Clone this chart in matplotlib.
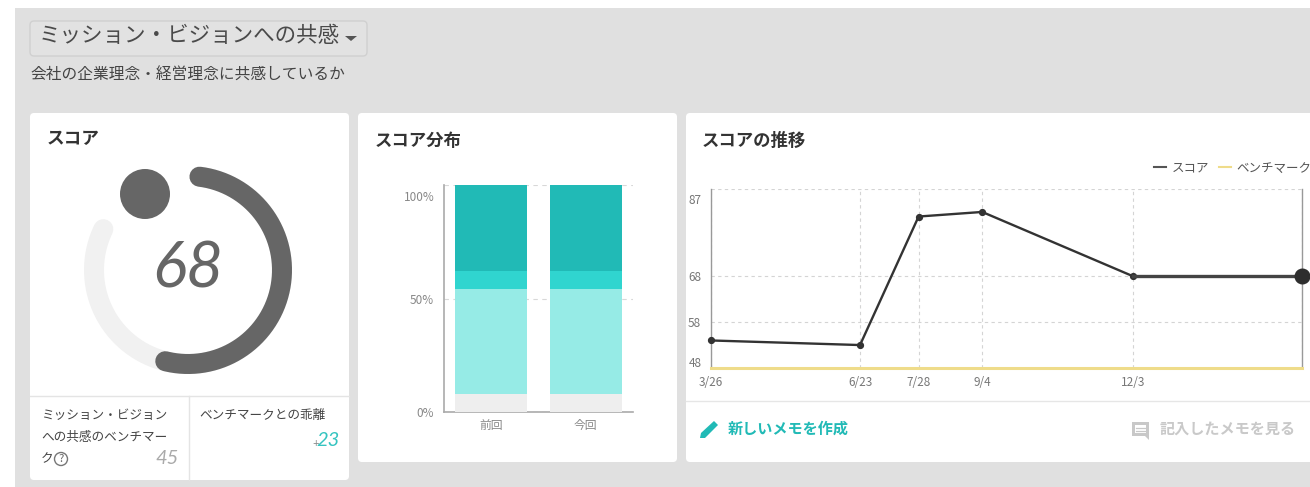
import matplotlib
matplotlib.use("Agg")
import numpy as np
import matplotlib.pyplot as plt
from matplotlib.patches import FancyBboxPatch, Rectangle, Circle, Polygon
from matplotlib.lines import Line2D
from matplotlib.transforms import ScaledTranslation

plt.rcParams['font.family'] = ['Noto Sans CJK JP', 'DejaVu Sans']

# ---- data ----
header_title = "ミッション・ビジョンへの共感"
header_sub = "会社の企業理念・経営理念に共感しているか"
score = 68
benchmark = 45
gap_label = "23"

dist_categories = ["前回", "今回"]
dist_bottom_grey = [8, 8]
dist_light = [46, 46]
dist_mid = [8, 8]
dist_dark = [38, 38]
dist_ticks = [0, 50, 100]
dist_ticklabels = ["0%", "50%", "100%"]

trend_days = [0, 89, 124, 162, 252, 353]
trend_scores = [54, 53, 81, 82, 68, 68]
trend_bench = [48, 48, 48, 48, 48, 48]
trend_xticklabels = ["3/26", "6/23", "7/28", "9/4", "12/3", ""]
trend_yticks = [48, 58, 68, 87]

W, H = 1310, 487
fig = plt.figure(figsize=(W / 100, H / 100), dpi=100, facecolor="white")
bg = fig.add_axes([0, 0, 1, 1], zorder=0)
bg.set_xlim(0, W)
bg.set_ylim(H, 0)
bg.axis("off")

TXT = "#444444"
TEAL = "#21bab6"
bold = dict(fontweight="bold")


def px_axes(x0, y0, x1, y1, **kw):
    return fig.add_axes([x0 / W, 1 - y1 / H, (x1 - x0) / W, (y1 - y0) / H], **kw)


def card(x0, y0, x1, y1):
    bg.add_patch(FancyBboxPatch((x0 + 4, y0 + 4), x1 - x0 - 8, y1 - y0 - 8,
                                boxstyle="round,pad=4,rounding_size=4",
                                fc="white", ec="none", zorder=1))


def t(x, y, s, size, color=TXT, ha="left", va="center", **kw):
    return bg.text(x, y, s, fontsize=size, color=color, ha=ha, va=va, zorder=5, **kw)


# page
bg.add_patch(Rectangle((15, 8), W - 15, H - 8, fc="#e0e0e0", ec="none", zorder=0))

# header
bg.add_patch(FancyBboxPatch((33, 24), 331, 29, boxstyle="round,pad=3,rounding_size=4",
                            fc="#e2e2e2", ec="#d0d0d0", lw=1, zorder=1))
t(39, 35.5, header_title, 15.5, color="#4a4a4a")
bg.add_patch(Polygon([[345, 36], [357, 36], [351, 41]], fc="#555555", ec="none", zorder=5))
t(30, 75, header_sub, 11.3, color="#444444")

# cards
card(30, 113, 349, 480)
card(358, 113, 677, 462)
card(686, 113, 1316, 462)

t(47, 139, "スコア", 12.7, color="#333333", **bold)
t(375, 141, "スコア分布", 12.5, color="#333333", **bold)
t(702, 141, "スコアの推移", 12.5, color="#333333", **bold)

# gauge
cx, cy, r = 188, 270, 94
start, span = 7.0, 275.0


def arc(v0, v1, color, z):
    a = np.radians(start + np.linspace(v0, v1, 200) / 100 * span)
    bg.plot(cx + r * np.sin(a), cy - r * np.cos(a), color=color, lw=14.4,
            solid_capstyle="round", zorder=z)


arc(0, 105, "#f1f1f1", 2)
arc(0, score, "#666666", 3)
bg.add_patch(Circle((145, 194), 25, fc="#666666", ec="none", zorder=3))
t(188, 270, str(score), 46, color="#666666", ha="center", family="Lato",
  style="italic", fontweight="normal")

# score-card footer
bg.plot([30, 349], [396, 396], color="#e4e4e4", lw=1, zorder=2)
bg.plot([188.5, 188.5], [396, 480], color="#e4e4e4", lw=1, zorder=2)
t(41, 415, "ミッション・ビジョン", 9.1)
t(41, 437, "への共感のベンチマー", 9.1)
t(41, 459, "ク", 9.1)
bg.add_patch(Circle((61, 459), 6.5, fc="white", ec="#777777", lw=1, zorder=5))
t(61, 459, "?", 8, color="#666666", ha="center")
t(179, 459, str(benchmark), 14.5, color="#aaaaaa", ha="right", family="Lato", style="italic")
t(199, 416, "ベンチマークとの乖離", 9.1)
t(340, 441, gap_label, 14.5, color="#35c4c0", ha="right", family="Lato", style="italic")
t(319, 443, "+", 8, color="#888888", ha="right", family="Lato")

# distribution chart
ax = px_axes(444, 185, 633, 412, zorder=2)
ax.patch.set_alpha(0)
xs = np.arange(len(dist_categories))
bottom = np.zeros(len(xs))
for vals, col in [(dist_bottom_grey, "#eeeeee"), (dist_light, "#96ebe6"),
                  (dist_mid, "#30d5cf"), (dist_dark, "#21bab6")]:
    ax.bar(xs, vals, bottom=bottom, width=0.76, color=col, zorder=3)
    bottom = bottom + np.array(vals)
ax.set_xlim(-0.5, 1.5)
ax.set_ylim(0, 100)
ax.set_xticks(xs, dist_categories, fontsize=8.5, color="#888888")
ax.set_yticks(dist_ticks, dist_ticklabels, fontsize=8.5, color="#888888")
ax.tick_params(length=0, pad=7)
ax.tick_params(axis="x", pad=5)
ax.yaxis.grid(True, color="#d8d8d8", ls=(0, (4, 4)), lw=0.8, zorder=1)
for s in ["top", "right"]:
    ax.spines[s].set_visible(False)
for s in ["left", "bottom"]:
    ax.spines[s].set_color("#aaaaaa")
    ax.spines[s].set_linewidth(1.2)
ax.get_yticklabels()[2].set_transform(
    ax.get_yticklabels()[2].get_transform() + ScaledTranslation(0, -11 / 100, fig.dpi_scale_trans))

# trend chart
ax2 = px_axes(711, 189, 1302, 368, zorder=2)
ax2.patch.set_alpha(0)
ax2.plot(trend_days, trend_bench, color="#efdc8a", lw=2.2, zorder=3, clip_on=False, label="ベンチマーク")
ax2.plot(trend_days[:-1], trend_scores[:-1], color="#333333", lw=1.7, marker="o", ms=4.2,
         zorder=4, clip_on=False)
ax2.plot(trend_days[-2:], trend_scores[-2:], color="#444444", lw=2.4, zorder=4, clip_on=False)
ax2.plot(trend_days[-1:], trend_scores[-1:], color="#2e2e2e", marker="o", ms=10.5, zorder=5,
         clip_on=False, ls="none")
ax2.set_xlim(trend_days[0], trend_days[-1])
ax2.set_ylim(trend_yticks[0], trend_yticks[-1])
ax2.set_xticks(trend_days, trend_xticklabels, fontsize=8.5, color="#777777")
ax2.set_yticks(trend_yticks, [str(v) for v in trend_yticks], fontsize=8.5, color="#777777")
ax2.tick_params(length=0)
ax2.tick_params(axis="x", pad=6)
ax2.tick_params(axis="y", pad=7)
ax2.grid(True, color="#d4d4d4", ls=(0, (3, 3)), lw=0.8, zorder=1)
ax2.spines["top"].set_visible(False)
for s in ["left", "right", "bottom"]:
    ax2.spines[s].set_color("#999999")
    ax2.spines[s].set_linewidth(1)
ylabels = ax2.get_yticklabels()
for lab, dy in zip(ylabels, [6, 0, 0, -10]):
    lab.set_transform(lab.get_transform() + ScaledTranslation(0, dy / 100, fig.dpi_scale_trans))

handles = [Line2D([], [], color="#555555", lw=1.5), Line2D([], [], color="#efdc8a", lw=1.5)]
leg = fig.legend(handles, ["スコア", "ベンチマーク"], loc="center left",
                 bbox_to_anchor=(1154 / W, 1 - 168 / H), ncol=2, frameon=False,
                 fontsize=9, handlelength=0.95, handletextpad=0.45, columnspacing=0.8,
                 labelcolor="#555555", borderpad=0, borderaxespad=0)

# trend-card footer
bg.plot([686, 1310], [401, 401], color="#e6e6e6", lw=1, zorder=2)
bg.add_patch(Polygon([[700, 438], [701, 433], [714, 421], [718, 425], [705, 438]],
                     fc=TEAL, ec="none", zorder=5))
t(728, 429, "新しいメモを作成", 10.9, color=TEAL, **bold)
bg.add_patch(Rectangle((1132, 422), 17, 14, fc="#c8c8c8", ec="none", zorder=5))
bg.add_patch(Polygon([[1145, 436], [1149, 436], [1149, 440]], fc="#c8c8c8", ec="none", zorder=5))
bg.add_patch(Rectangle((1135, 425), 11, 8, fc="white", ec="none", zorder=6))
for yy in (427.5, 430.5):
    bg.plot([1136, 1145], [yy, yy], color="#c8c8c8", lw=0.9, zorder=7)
t(1160, 429, "記入したメモを見る", 10.9, color="#c9c9c9", **bold)

fig.savefig("out.png", dpi=100, facecolor="white")
